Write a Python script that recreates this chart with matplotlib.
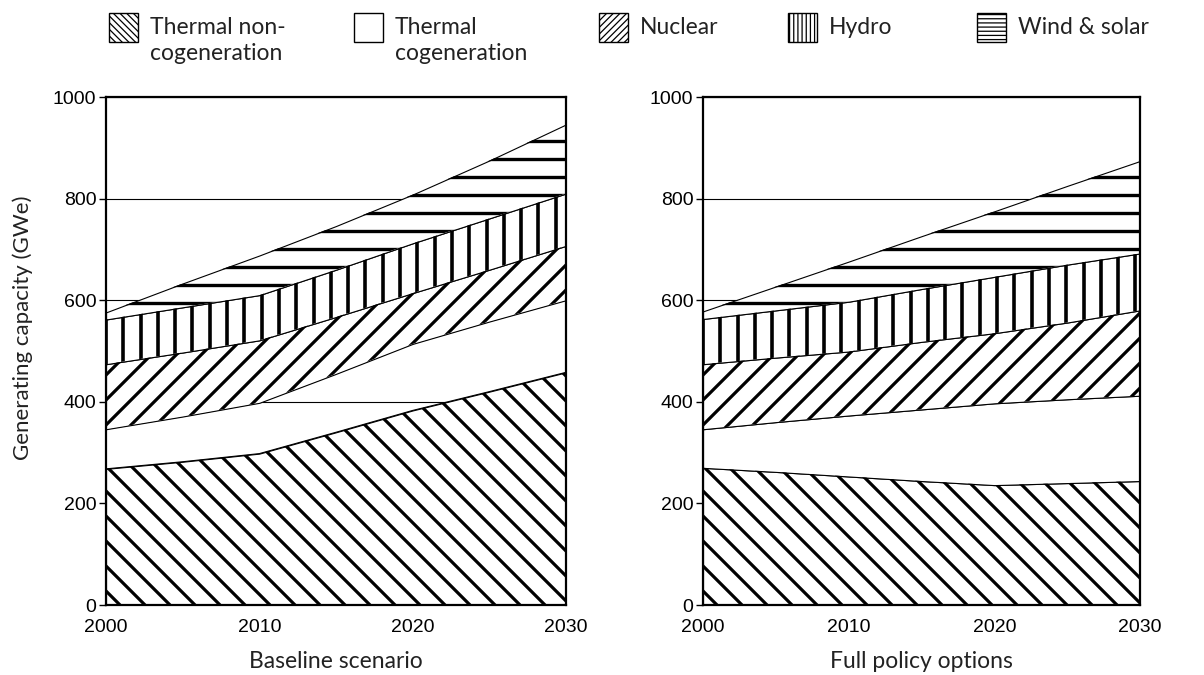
import matplotlib
matplotlib.use("Agg")
import matplotlib.pyplot as plt
import numpy as np
from matplotlib.collections import LineCollection
from matplotlib.patches import Rectangle
from matplotlib.transforms import IdentityTransform

years = [2000, 2005, 2010, 2015, 2020, 2025, 2030]
sources = ["Thermal non-\ncogeneration", "Thermal\ncogeneration", "Nuclear", "Hydro", "Wind & solar"]

# generating capacity by source (GWe), baseline scenario
base_noncogen = [268, 282, 298, 340, 383, 420, 458]
base_cogen = [78, 89, 100, 115, 131, 138, 142]
base_nuclear = [128, 126, 123, 112, 100, 102, 107]
base_hydro = [88, 89, 89, 93, 98, 101, 103]
base_wind = [14, 47, 78, 86, 96, 114, 136]

# full policy options
pol_noncogen = [270, 262, 253, 244, 236, 240, 244]
pol_cogen = [76, 98, 120, 141, 161, 165, 168]
pol_nuclear = [128, 127, 126, 133, 138, 151, 168]
pol_hydro = [89, 93, 98, 104, 111, 114, 112]
pol_wind = [15, 47, 79, 104, 129, 155, 182]

panel_names = ["Baseline scenario", "Full policy options"]
yticks = [0, 200, 400, 600, 800, 1000]
xticks = [2000, 2010, 2020, 2030]

plt.rcParams["font.family"] = ["Liberation Sans", "DejaVu Sans"]
plt.rcParams["hatch.linewidth"] = 0.9
label_font = ["Lato", "DejaVu Sans"]

# stripe styles per source: (kind, spacing px, offset px, line width pt)
stripes = [("se", 25, 14, 2.3), None, ("ne", 25, 20, 2.3), ("v", 17.3, 0, 2.6), ("h", 18.1, 12, 2.4)]
legend_hatch = ["\\" * 5, "", "/" * 5, "|" * 4, "-" * 4]
# the plain cogeneration band lets the grid show through on the left panel only
cogen_face = ["none", "white"]

W, H = 1204, 675


def stripe_lines(ax, path, kind, sp, off, lw):
    bb = ax.get_window_extent()
    x0, y0, x1, y1 = bb.x0, bb.y0, bb.x1, bb.y1
    h = y1 - y0
    segs = []
    if kind == "v":
        for x in np.arange(x0 + off, x1, sp):
            segs.append([(x, y0), (x, y1)])
    elif kind == "h":
        for y in np.arange(y0 + off, y1, sp):
            segs.append([(x0, y), (x1, y)])
    elif kind == "ne":
        start = x0 - y0 + off - np.ceil((h + off) / sp) * sp
        for c in np.arange(start, x1 - y0 + sp, sp):
            segs.append([(c + y0, y0), (c + y1, y1)])
    else:
        for c in np.arange(x0 + y0 + off - sp, x1 + y1 + sp, sp):
            segs.append([(c - y0, y0), (c - y1, y1)])
    lc = LineCollection(segs, colors="black", linewidths=lw, capstyle="butt",
                        transform=IdentityTransform(), zorder=3)
    lc.set_clip_path(path, ax.transData)
    ax.add_collection(lc, autolim=False)


fig = plt.figure(figsize=(W / 100, H / 100), dpi=100)
ax_pos = [[106 / W, 70 / H, 460 / W, 508 / H], [703 / W, 70 / H, 437 / W, 508 / H]]

panels = [[base_noncogen, base_cogen, base_nuclear, base_hydro, base_wind],
          [pol_noncogen, pol_cogen, pol_nuclear, pol_hydro, pol_wind]]

for pos, series, name, cface in zip(ax_pos, panels, panel_names, cogen_face):
    ax = fig.add_axes(pos)
    ax.set_xlim(2000, 2030)
    ax.set_ylim(0, 1000)
    ax.set_yticks(yticks)
    ax.set_xticks(xticks)
    ax.set_axisbelow(True)
    ax.grid(axis="y", color="black", linewidth=0.8)
    ax.tick_params(axis="y", length=5, width=1, pad=2, labelsize=14)
    ax.tick_params(axis="x", length=0, pad=10, labelsize=14)
    for sp in ax.spines.values():
        sp.set_linewidth(1.6)
        sp.set_zorder(5)

    tops = np.cumsum(np.array(series, dtype=float), axis=0)
    bottoms = np.vstack([np.zeros(len(years)), tops[:-1]])
    for i in range(len(series)):
        face = cface if stripes[i] is None else "white"
        poly = ax.fill_between(years, bottoms[i], tops[i], facecolor=face,
                               edgecolor="black", linewidth=0.8, zorder=2)
        if stripes[i] is not None:
            stripe_lines(ax, poly.get_paths()[0], *stripes[i])

    cx = pos[0] + pos[2] / 2
    fig.text(cx, 1 - 668 / H, name, ha="center", va="baseline",
             fontsize=16.5, family=label_font, color="#222222")

fig.text(23 / W, 1 - 328 / H, "Generating capacity (GWe)", rotation=90,
         ha="center", va="center", fontsize=16, family=label_font, color="#222222")

# legend across the top
box_x = [109, 354, 599, 788, 977]
text_x = [150, 395, 640, 829, 1018]
for bx, tx, label, hat in zip(box_x, text_x, sources, legend_hatch):
    fig.add_artist(Rectangle((bx / W, 1 - 42 / H), 29 / W, 29 / H, transform=fig.transFigure,
                             facecolor="white", edgecolor="black", linewidth=1.0, hatch=hat))
    for k, line in enumerate(label.split("\n")):
        fig.text(tx / W, 1 - (34 + 26 * k) / H, line, ha="left", va="baseline",
                 fontsize=16.5, family=label_font, color="#222222")

fig.savefig("out.png", dpi=100)
